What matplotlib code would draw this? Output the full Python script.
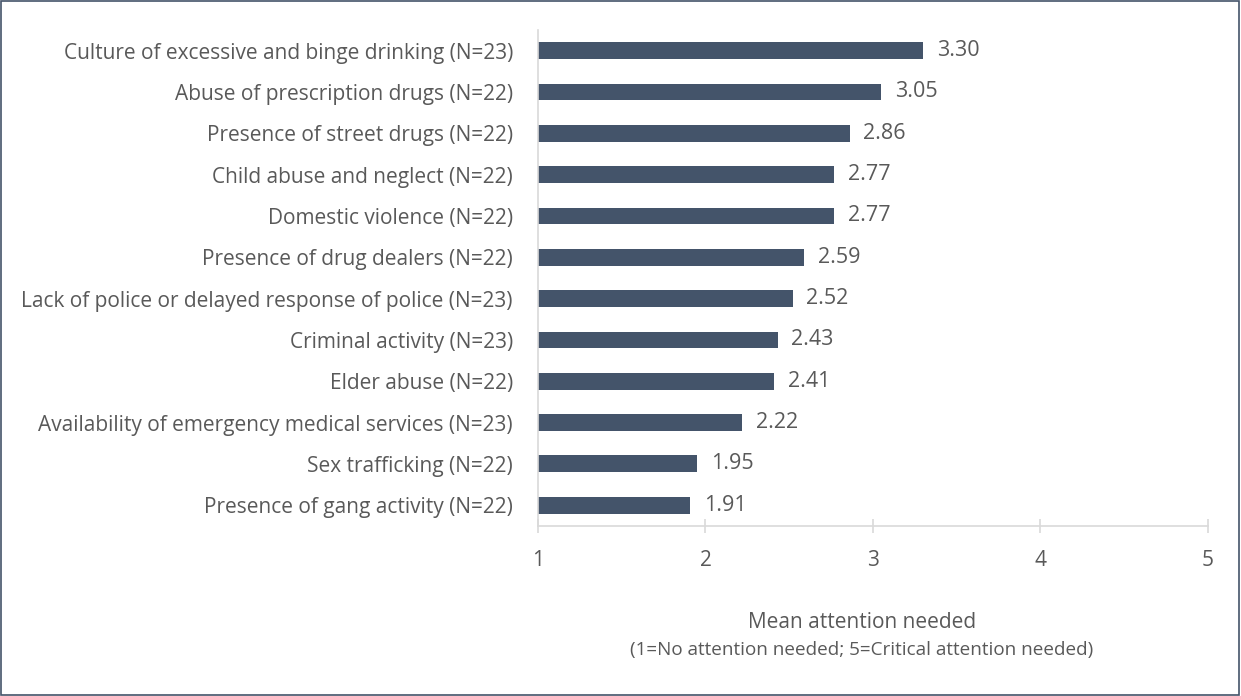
import matplotlib.pyplot as plt
from matplotlib.patches import Rectangle

plt.rcParams['font.family'] = ['Open Sans', 'DejaVu Sans']

categories = [
    'Culture of excessive and binge drinking (N=23)',
    'Abuse of prescription drugs (N=22)',
    'Presence of street drugs (N=22)',
    'Child abuse and neglect (N=22)',
    'Domestic violence (N=22)',
    'Presence of drug dealers (N=22)',
    'Lack of police or delayed response of police (N=23)',
    'Criminal activity (N=23)',
    'Elder abuse (N=22)',
    'Availability of emergency medical services (N=23)',
    'Sex trafficking (N=22)',
    'Presence of gang activity (N=22)',
]
values = [3.30, 3.05, 2.86, 2.77, 2.77, 2.59, 2.52, 2.43, 2.41, 2.22, 1.95, 1.91]
x_ticks = [1, 2, 3, 4, 5]

bar_color = '#44546A'
text_color = '#595959'
grid_color = '#D9D9D9'

fig = plt.figure(figsize=(12.41, 6.96), dpi=100)
ax = fig.add_axes([0.4335, 0.2443, 0.5399, 0.7126])

# top category first -> reverse positions
pos = list(range(len(categories)))[::-1]
ax.barh(pos, values, height=0.41, color=bar_color)

for p, v in zip(pos, values):
    ax.annotate(f'{v:.2f}', xy=(v, p), xytext=(10, 0), textcoords='offset points',
                va='center', ha='left', fontsize=15.5, color=text_color)

ax.set_xlim(1, 5)
ax.set_ylim(-0.5, 11.5)
ax.set_xticks(x_ticks)
ax.set_xticklabels([str(t) for t in x_ticks])
ax.set_yticks(pos)
ax.set_yticklabels(categories)

for s in ['top', 'right']:
    ax.spines[s].set_visible(False)
for s in ['left', 'bottom']:
    ax.spines[s].set_color(grid_color)
    ax.spines[s].set_linewidth(1.2)

ax.tick_params(axis='x', direction='inout', length=10, width=1.2, color=grid_color,
               labelsize=15, labelcolor=text_color, pad=12)
ax.tick_params(axis='y', length=0, labelsize=15, labelcolor=text_color, pad=18)

fig.text(862 / 1241, 1 - 623 / 696, 'Mean attention needed', ha='center', va='center',
         fontsize=15, color=text_color)
fig.text(862 / 1241, 1 - 650 / 696, '(1=No attention needed; 5=Critical attention needed)',
         ha='center', va='center', fontsize=13.6, color=text_color)

fig.patches.append(Rectangle((0.001, 0.002), 0.997, 0.996, transform=fig.transFigure,
                             fill=False, edgecolor='#44546A', linewidth=1.2))

fig.savefig('out.png', dpi=100)
